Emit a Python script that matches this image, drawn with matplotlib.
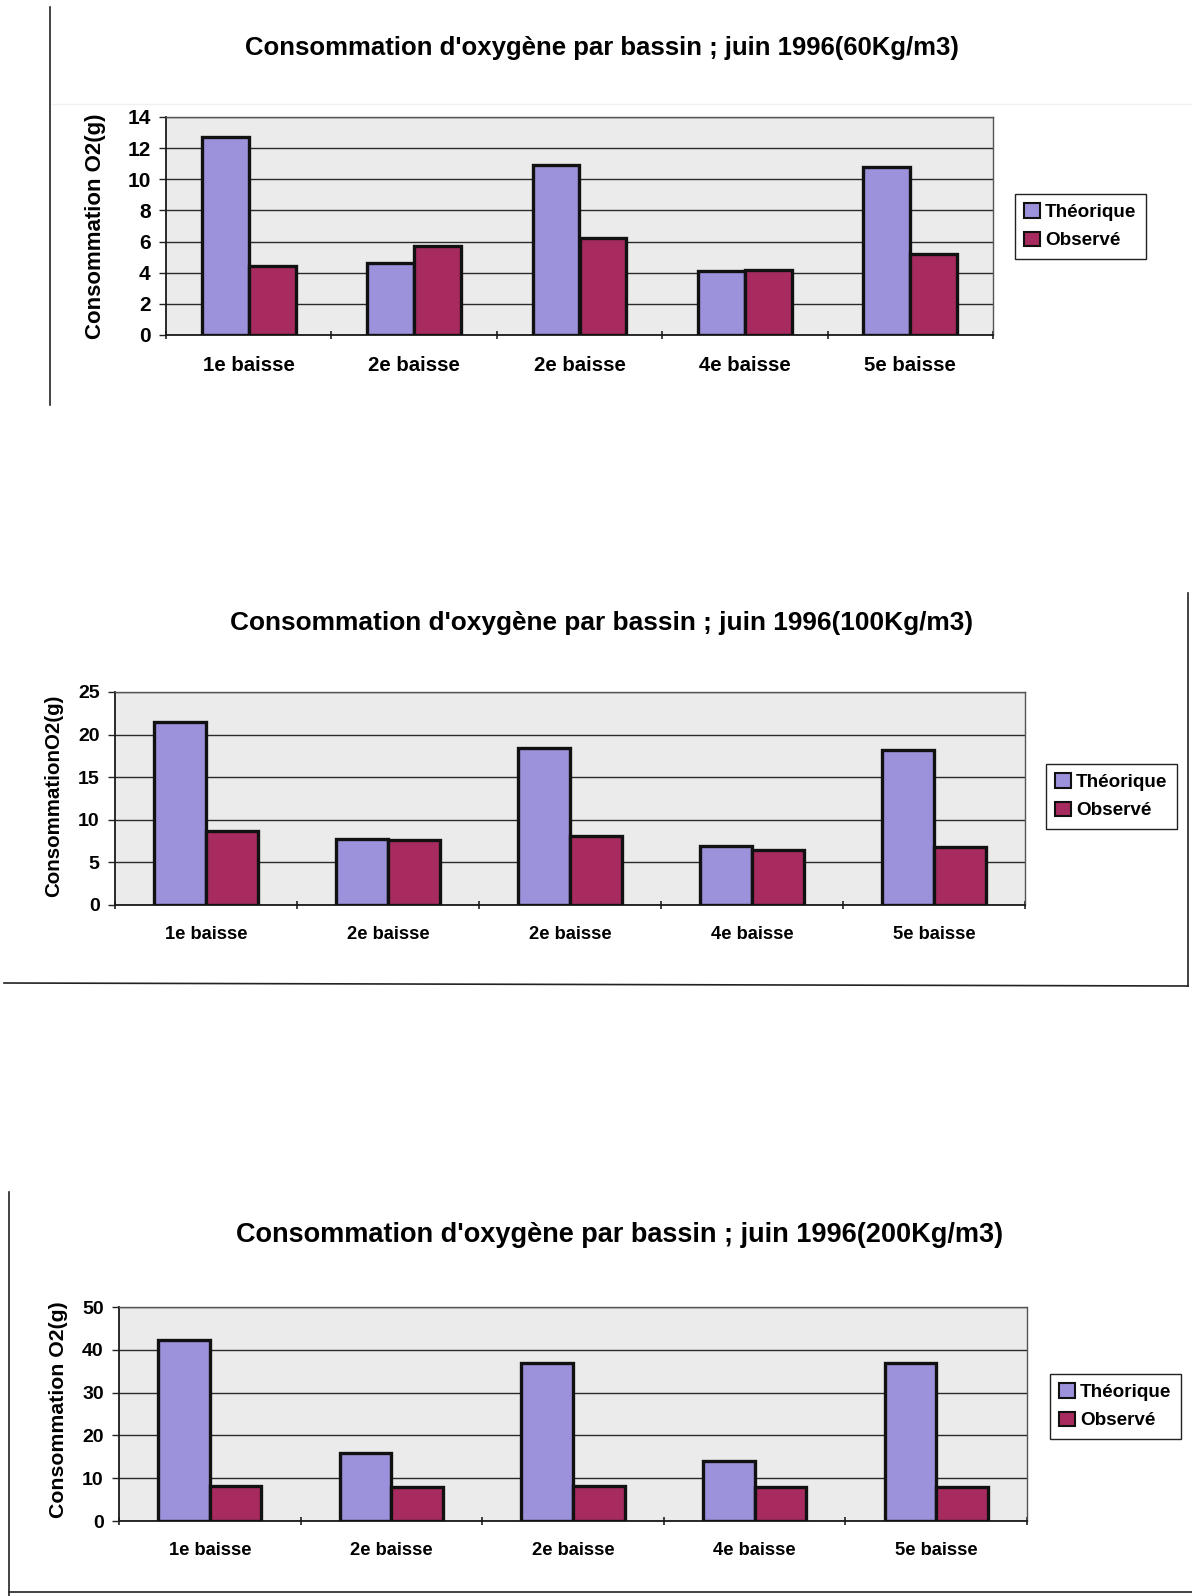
import numpy as np
import matplotlib
matplotlib.use('Agg')
import matplotlib.pyplot as plt
from matplotlib.lines import Line2D

plt.rcParams['font.family'] = ['Liberation Sans', 'DejaVu Sans']
plt.rcParams['font.weight'] = 'bold'

# Données : consommation d'oxygène par bassin (g), juin 1996
categories = ['1e baisse', '2e baisse', '2e baisse', '4e baisse', '5e baisse']
series_names = ['Théorique', 'Observé']

theo_60 = [12.7, 4.6, 10.9, 4.1, 10.8]
obs_60 = [4.4, 5.7, 6.2, 4.2, 5.2]

theo_100 = [21.5, 7.8, 18.4, 6.9, 18.2]
obs_100 = [8.7, 7.6, 8.1, 6.4, 6.8]

theo_200 = [42.3, 15.8, 36.8, 14.0, 36.8]
obs_200 = [8.1, 7.9, 8.2, 8.0, 7.9]

W, H = 1192, 1596
fig = plt.figure(figsize=(W / 100, H / 100), dpi=100)
fig.patch.set_facecolor('white')

col_theo = '#9c92dc'
col_obs = '#a72b5e'


def rect(l, t, r, b):
    return [l / W, 1 - b / H, (r - l) / W, (b - t) / H]


def fig_line(x0, y0, x1, y1, color='#222222', lw=1.2):
    fig.add_artist(Line2D([x0 / W, x1 / W], [1 - y0 / H, 1 - y1 / H],
                          transform=fig.transFigure, color=color, lw=lw))


def draw_chart(box, theo, obs, ymax, ystep, title, title_xy, title_size,
               ylabel, ylabel_xy, ylabel_size, tick_size, ytick_size, leg_xy):
    ax = fig.add_axes(rect(*box))
    ax.set_facecolor('#ebebeb')
    x = np.arange(len(categories))
    w = 0.284
    ax.bar(x - w / 2, theo, w, color=col_theo, edgecolor='#111111',
           linewidth=2.4, label=series_names[0], zorder=3)
    ax.bar(x + w / 2, obs, w, color=col_obs, edgecolor='#111111',
           linewidth=2.4, label=series_names[1], zorder=3)

    ax.set_xlim(-0.5, len(categories) - 0.5)
    ax.set_ylim(0, ymax)
    ax.set_yticks(np.arange(0, ymax + 0.1, ystep))
    ax.yaxis.grid(True, color='#2a2a2a', linewidth=1.0, zorder=1)
    ax.set_axisbelow(True)

    ax.set_xticks(x)
    ax.set_xticklabels(categories, fontsize=tick_size, fontweight='bold')
    ax.set_xticks(np.arange(-0.5, len(categories), 1.0), minor=True)
    ax.tick_params(axis='x', which='major', length=0, pad=15)
    ax.tick_params(axis='x', which='minor', length=6, width=1.2,
                   direction='inout', color='#222222')
    ax.tick_params(axis='y', length=5, width=1.0, direction='out', pad=6,
                   labelsize=ytick_size, color='#222222')
    for lab in ax.get_yticklabels():
        lab.set_fontweight('bold')

    for side in ('left', 'bottom'):
        ax.spines[side].set_color('#1a1a1a')
        ax.spines[side].set_linewidth(1.3)
    for side in ('top', 'right'):
        ax.spines[side].set_color('#555555')
        ax.spines[side].set_linewidth(1.0)
        ax.spines[side].set_linestyle((0, (2, 1)))

    ax.set_ylabel(ylabel, fontsize=ylabel_size, fontweight='bold')
    ax.yaxis.set_label_coords(ylabel_xy[0] / W, 1 - ylabel_xy[1] / H,
                              transform=fig.transFigure)

    fig.text(title_xy[0] / W, 1 - title_xy[1] / H, title, fontsize=title_size,
             fontweight='bold', ha='center', va='center')

    leg = ax.legend(loc='upper left', bbox_to_anchor=(leg_xy[0] / W, 1 - leg_xy[1] / H),
                    bbox_transform=fig.transFigure, borderaxespad=0,
                    fancybox=False, edgecolor='#222222', framealpha=1,
                    handlelength=0.8, handleheight=0.8, handletextpad=0.3,
                    labelspacing=0.55, borderpad=0.5,
                    prop={'size': 13.6, 'weight': 'bold'})
    leg.get_frame().set_linewidth(1.0)
    for h in leg.legend_handles:
        h.set_linewidth(1.5)
    return ax


# Graphique 1 : 60 Kg/m3
fig_line(52, 104, W, 104, color='#f0f0f0', lw=1.0)
fig_line(50, 7, 50, 405)
draw_chart((166, 117, 993, 335), theo_60, obs_60, 14, 2,
           "Consommation d'oxygène par bassin ; juin 1996(60Kg/m3)", (602, 48), 18.5,
           'Consommation O2(g)', (106, 226), 16, 14.7, 15, (1015, 194))

# Graphique 2 : 100 Kg/m3
draw_chart((115, 692, 1025, 905), theo_100, obs_100, 25, 5,
           "Consommation d'oxygène par bassin ; juin 1996(100Kg/m3)", (601, 623), 18.9,
           'ConsommationO2(g)', (63, 796), 14.8, 13.2, 14, (1046, 764))
fig_line(1188, 593, 1188, 986)
fig_line(4, 983, 1188, 986)

# Graphique 3 : 200 Kg/m3
draw_chart((119, 1307, 1027, 1521), theo_200, obs_200, 50, 10,
           "Consommation d'oxygène par bassin ; juin 1996(200Kg/m3)", (620, 1235), 19.5,
           'Consommation O2(g)', (68, 1410), 15.3, 13.2, 14, (1050, 1374))
fig_line(9, 1192, 9, 1596)
fig_line(9, 1592, W, 1592)

fig.savefig('out.png', dpi=100)
